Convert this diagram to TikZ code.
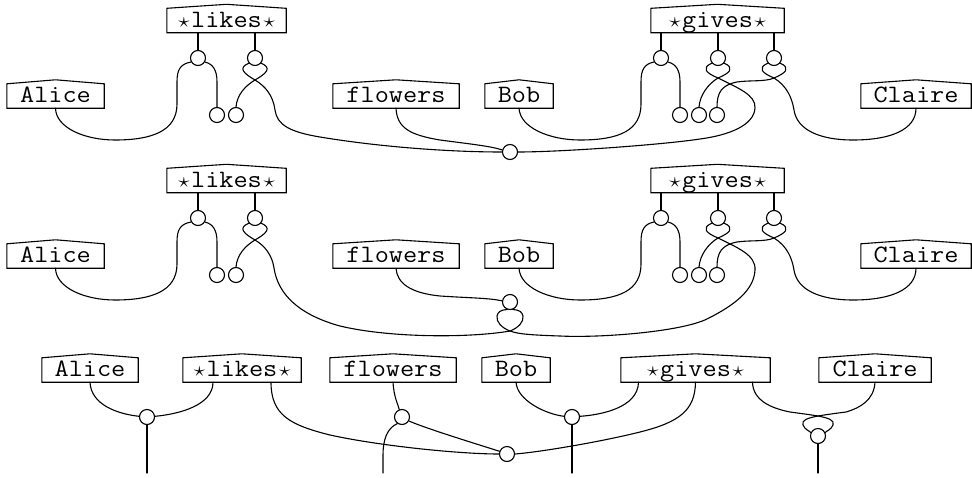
\documentclass[tikz,border=0pt]{standalone}
\usepackage{fontspec}
\usepackage{graphicx}
\newcommand\tx[1]{\scalebox{1.1}[1]{#1}}
\newcommand\stx{\makebox[0.525em]{\fontsize{21}{21}\selectfont$\star$}}
\tikzset{
  wire/.style={line width=1.1pt, line cap=round},
  lab/.style={inner xsep=0pt, inner ysep=0pt, minimum height=24pt, text height=18.5pt, text depth=5pt, font=\ttfamily\fontsize{25}{25}\selectfont},
  port/.style={circle, draw, line width=1.1pt, fill=white, minimum size=15pt, inner sep=0pt},
}
\newcommand\labnode[5]{%
  \node[lab, minimum width=#4pt] (#1) at (#2,#3) {\tx{#5}};
  \draw[wire, line cap=butt] (#1.south west) -- (#1.north west) -- ([yshift=4pt]#1.north) -- (#1.north east) -- (#1.south east) -- cycle;}
\newcommand\toprow[1]{%
  \labnode{alice#1}{55.5}{96}{97}{Alice}
  \labnode{likes#1}{226.5}{20.5}{119}{\stx likes\stx}
  \labnode{flowers#1}{396}{96}{126}{flowers}
  \labnode{bob#1}{519}{96}{68}{Bob}
  \labnode{gives#1}{717.5}{20.5}{133}{\stx gives\stx}
  \labnode{claire#1}{916}{96}{110}{Claire}
  \node[port] (l1#1) at (198,58) {};
  \node[port] (l2#1) at (255,58) {};
  \node[port] (g1#1) at (661,58) {};
  \node[port] (g2#1) at (718,58) {};
  \node[port] (g3#1) at (774,58) {};
  \node[port] (s1#1) at (217,115) {};
  \node[port] (s2#1) at (236,115) {};
  \node[port] (s3#1) at (680,115) {};
  \node[port] (s4#1) at (699,115) {};
  \node[port] (s5#1) at (717,115) {};
  \draw[wire] (likes#1.south -| l1#1) -- (l1#1);
  \draw[wire] (likes#1.south -| l2#1) -- (l2#1);
  \draw[wire] (gives#1.south -| g1#1) -- (g1#1);
  \draw[wire] (gives#1.south -| g2#1) -- (g2#1);
  \draw[wire] (gives#1.south -| g3#1) -- (g3#1);
  \draw[wire] (alice#1.south) .. controls (56,128) and (85,140) .. (115,140) .. controls (150,140) and (177,132) .. (177,104) -- (177,82) .. controls (177,70) and (180,64) .. (l1#1.210);
  \draw[wire] (l1#1.330) .. controls (213,64) and (217,70) .. (217,82) -- (s1#1.north);
  \draw[wire] (l2#1.320) .. controls (272,68) and (267,73) .. (255,80) .. controls (245,86) and (237,95) .. (s2#1.north);
  \draw[wire] (bob#1.south) .. controls (520,128) and (550,140) .. (580,140) .. controls (620,140) and (641,130) .. (641,104) -- (641,82) .. controls (641,70) and (644,64) .. (g1#1.210);
  \draw[wire] (g1#1.330) .. controls (676,64) and (680,70) .. (680,82) -- (s3#1.north);
  \draw[wire] (g2#1.320) .. controls (735,68) and (730,73) .. (718,78) .. controls (708,84) and (700,95) .. (s4#1.north);
  \draw[wire] (g3#1.320) .. controls (791,68) and (786,73) .. (774,78) .. controls (765,82) and (750,80) .. (737,82) .. controls (722,85) and (717,92) .. (s5#1.north);
  \draw[wire] (g3#1.220) .. controls (757,68) and (762,73) .. (774,78) .. controls (787,86) and (792,98) .. (794,110) .. controls (797,130) and (820,140) .. (853,140) .. controls (890,140) and (916,130) .. (claire#1.south);
}
\begin{document}
\begin{tikzpicture}[x=1pt,y=-1pt]
\useasboundingbox (0,0) rectangle (972,477);
% ---- row 1
\toprow{A}
\node[port] (jA) at (510,152) {};
\draw[wire] (l2A.220) .. controls (238,68) and (243,73) .. (255,80) .. controls (265,86) and (273,95) .. (275,110) .. controls (277,125) and (290,132) .. (320,137) .. controls (380,147) and (450,152) .. (jA.west);
\draw[wire] (flowersA.south) .. controls (397,128) and (410,135) .. (440,140) .. controls (470,144) and (490,146) .. (jA.165);
\draw[wire] (g2A.220) .. controls (701,68) and (706,73) .. (718,78) .. controls (738,88) and (756,95) .. (755,108) .. controls (754,125) and (730,135) .. (700,139) .. controls (660,145) and (560,152) .. (jA.east);
% ---- row 2
\begin{scope}[yshift=-160pt]
\toprow{B}
\node[port] (jB) at (510,142) {};
\draw[wire] (l2B.220) .. controls (238,68) and (243,73) .. (255,80) .. controls (265,86) and (272,95) .. (274,108) .. controls (278,135) and (300,155) .. (340,166) .. controls (390,178) and (470,178) .. (510,171) .. controls (518,168) and (524,162) .. (523,156) .. controls (522,152) and (520,150) .. (jB.290);
\draw[wire] (g2B.220) .. controls (701,68) and (706,73) .. (718,78) .. controls (738,88) and (756,95) .. (755,110) .. controls (754,130) and (735,145) .. (707,159) .. controls (680,172) and (600,178) .. (560,176) .. controls (530,175) and (518,174) .. (510,171) .. controls (502,168) and (496,162) .. (497,156) .. controls (498,152) and (500,150) .. (jB.250);
\draw[wire] (flowersB.south) .. controls (397,123) and (410,133) .. (440,136) .. controls (470,138) and (490,138) .. (jB.172);
\end{scope}
% ---- row 3
\labnode{aliceC}{90}{370}{96}{Alice}
\labnode{likesC}{242}{370}{118}{\stx likes\stx}
\labnode{flowersC}{393}{370}{126}{flowers}
\labnode{bobC}{516}{370}{68}{Bob}
\labnode{givesC}{695.5}{370}{149}{\stx gives\stx}
\labnode{claireC}{875}{370}{112}{Claire}
\node[port] (j1) at (147,417) {};
\node[port] (j2) at (402,417) {};
\node[port] (j3) at (572,417) {};
\node[port] (j4) at (507,454) {};
\node[port] (j5) at (818,436) {};
\coordinate (e1) at (147,473);
\coordinate (e2) at (383,473);
\coordinate (e3) at (572,473);
\coordinate (e4) at (818,473);
\draw[wire] (aliceC.south) .. controls (91,405) and (118,414) .. (j1.175);
\draw[wire] ([xshift=-29pt]likesC.south) .. controls (213,405) and (180,414) .. (j1.5);
\draw[wire] (j1.south) -- (e1);
\draw[wire] ([xshift=29pt]likesC.south) .. controls (271,415) and (290,425) .. (330,435) .. controls (380,446) and (460,454) .. (j4.west);
\draw[wire] (flowersC.south) .. controls (394,398) and (398,404) .. (j2.110);
\draw[wire] (j2.235) .. controls (387,428) and (383,440) .. (383,455) -- (e2);
\draw[wire] (j2.330) .. controls (425,428) and (470,442) .. (j4.160);
\draw[wire] (bobC.south) .. controls (517,400) and (545,414) .. (j3.175);
\draw[wire] ([xshift=-57pt]givesC.south) .. controls (638,408) and (600,415) .. (j3.5);
\draw[wire] (j3.south) -- (e3);
\draw[wire] (givesC.south) .. controls (695,410) and (680,422) .. (640,432) .. controls (600,442) and (540,452) .. (j4.east);
\draw[wire] ([xshift=57pt]givesC.south) .. controls (753,400) and (770,408) .. (790,412) .. controls (805,414) and (812,415) .. (818,416) .. controls (828,418) and (835,420) .. (833,425) .. controls (831,430) and (826,431) .. (j5.25);
\draw[wire] (claireC.south) .. controls (874,400) and (860,408) .. (846,412) .. controls (830,414) and (824,415) .. (818,416) .. controls (808,418) and (801,420) .. (803,425) .. controls (805,430) and (810,431) .. (j5.155);
\draw[wire] (j5.south) -- (e4);
\end{tikzpicture}
\end{document}
